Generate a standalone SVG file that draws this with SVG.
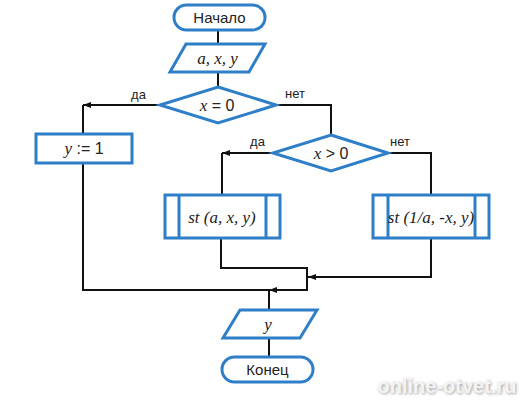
<svg xmlns="http://www.w3.org/2000/svg" width="524" height="400" viewBox="0 0 524 400">
<defs>
<style>
.shape{fill:#ffffff;stroke:#2f7fc8;stroke-width:3;stroke-linejoin:miter}
.inner{stroke:#2f7fc8;stroke-width:3}
.conn{fill:none;stroke:#111111;stroke-width:2}
.sans{font-family:"Liberation Sans",Arial,sans-serif;fill:#222222}
.ser{font-family:"Liberation Serif","Times New Roman",serif;font-style:italic;fill:#222222}
.lbl{font-family:"Liberation Sans",Arial,sans-serif;font-size:13px;fill:#222222}
</style>
<marker id="arr" viewBox="0 0 8 6" refX="8" refY="3" markerWidth="8" markerHeight="6" markerUnits="userSpaceOnUse" orient="auto">
<path d="M0,0 L8,3 L0,6 Z" fill="#111111"/>
</marker>
<filter id="blur" x="-10%" y="-30%" width="120%" height="160%">
<feGaussianBlur stdDeviation="1.5"/>
</filter>
</defs>
<rect width="524" height="400" fill="#ffffff"/>

<g id="connectors">
<path class="conn" d="M218,30 V44"/>
<path class="conn" d="M218,72 V87"/>
<path class="conn" d="M160,105 H83" marker-end="url(#arr)"/>
<path class="conn" d="M83,105 V134"/>
<path class="conn" d="M276,105 H331 V135"/>
<path class="conn" d="M273,153 H222" marker-end="url(#arr)"/>
<path class="conn" d="M222,153 V195"/>
<path class="conn" d="M388,153 H431 V195"/>
<path class="conn" d="M83,163 V290 H269"/>
<path class="conn" d="M221,238 V268 H307 V290 H269" marker-end="url(#arr)"/>
<path class="conn" d="M431,238 V277 H308" marker-end="url(#arr)"/>
<path class="conn" d="M269,290 V310"/>
<path class="conn" d="M269,338 V357"/>
</g>

<g id="start">
<rect class="shape" x="174" y="5" width="91" height="25" rx="12.5" ry="12.5"/>
<text class="sans" x="219.5" y="23" font-size="15" text-anchor="middle">Начало</text>
</g>

<g id="input">
<polygon class="shape" points="186,44 265,44 249,72 170,72"/>
<text class="ser" x="217.5" y="64" font-size="17" text-anchor="middle">a, x, y</text>
</g>

<g id="cond1">
<polygon class="shape" points="218,87 276,105 218,123 160,105"/>
<text x="217" y="111" text-anchor="middle"><tspan class="ser" font-size="17">x</tspan><tspan class="sans" font-size="16"> = 0</tspan></text>
<text class="lbl" x="138.5" y="99" text-anchor="middle">да</text>
<text class="lbl" x="295" y="98" text-anchor="middle">нет</text>
</g>

<g id="assign">
<rect class="shape" x="36" y="134" width="96" height="29"/>
<text x="84" y="154" text-anchor="middle"><tspan class="ser" font-size="17">y</tspan><tspan class="sans" font-size="16"> := 1</tspan></text>
</g>

<g id="cond2">
<polygon class="shape" points="331,135 388,153 331,171 273,153"/>
<text x="331" y="159" text-anchor="middle"><tspan class="ser" font-size="17">x</tspan><tspan class="sans" font-size="16"> &gt; 0</tspan></text>
<text class="lbl" x="257.5" y="146" text-anchor="middle">да</text>
<text class="lbl" x="400" y="146" text-anchor="middle">нет</text>
</g>

<g id="proc1">
<rect class="shape" x="165" y="195" width="115" height="43"/>
<line class="inner" x1="179" y1="195" x2="179" y2="238"/>
<line class="inner" x1="266" y1="195" x2="266" y2="238"/>
<text class="ser" x="222" y="223" font-size="17" text-anchor="middle">st (a, x, y)</text>
</g>

<g id="proc2">
<rect class="shape" x="373" y="195" width="116" height="43"/>
<line class="inner" x1="388" y1="195" x2="388" y2="238"/>
<line class="inner" x1="475" y1="195" x2="475" y2="238"/>
<text class="ser" x="431" y="223" font-size="17" text-anchor="middle">st (1/a, -x, y)</text>
</g>

<g id="output">
<polygon class="shape" points="240,310 317,310 300,338 223,338"/>
<text class="ser" x="268" y="330" font-size="17" text-anchor="middle">y</text>
</g>

<g id="end">
<rect class="shape" x="222" y="357" width="91" height="25" rx="12.5" ry="12.5"/>
<text class="sans" x="267.5" y="375" font-size="15" text-anchor="middle">Конец</text>
</g>

<g id="watermark">
<text x="448" y="394" font-family="'Liberation Sans',Arial,sans-serif" font-weight="bold" font-size="20" text-anchor="middle" fill="#9a9a9a" filter="url(#blur)">online-otvet.ru</text>
<text x="447" y="393" font-family="'Liberation Sans',Arial,sans-serif" font-weight="bold" font-size="20" text-anchor="middle" fill="#f4f4f4">online-otvet.ru</text>
</g>
</svg>
